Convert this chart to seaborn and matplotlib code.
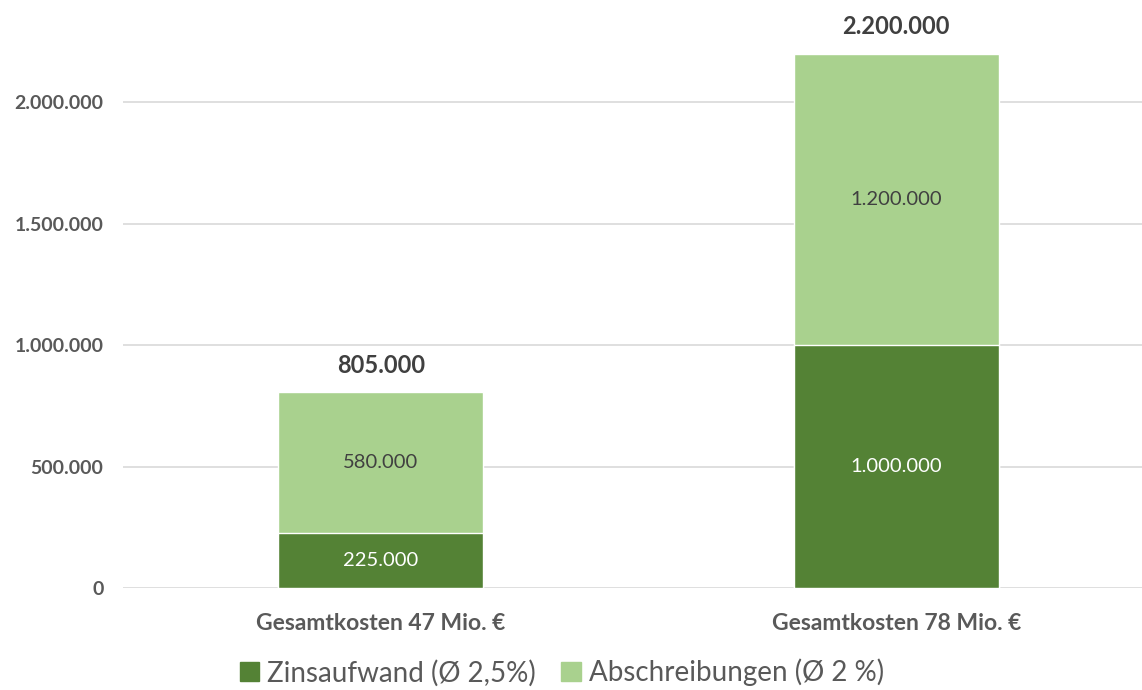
import matplotlib
matplotlib.use("Agg")
import matplotlib.pyplot as plt
import matplotlib.patches as mpatches
import seaborn as sns
import pandas as pd

categories = ["Gesamtkosten 47 Mio. €", "Gesamtkosten 78 Mio. €"]
zinsaufwand = [225000, 1000000]
abschreibungen = [580000, 1200000]
series_names = ["Zinsaufwand (Ø 2,5%)", "Abschreibungen (Ø 2 %)"]
y_ticks = [0, 500000, 1000000, 1500000, 2000000]

dark_green = "#548235"
light_green = "#A9D18E"
text_gray = "#595959"
label_dark = "#404040"

def fmt(v):
    return f"{v:,.0f}".replace(",", ".")

totals = [z + a for z, a in zip(zinsaufwand, abschreibungen)]
df = pd.DataFrame({"Kategorie": categories, "Zins": zinsaufwand,
                   "Abschreibung": abschreibungen, "Gesamt": totals})

sns.set_style("white")
plt.rcParams["font.family"] = ["Lato", "DejaVu Sans"]

fig = plt.figure(figsize=(11.42, 6.9), dpi=100)
ax = fig.add_axes([0.1077, 0.1478, 0.8923, 0.845])

# full stack height in light green, lower segment in dark green over it
sns.barplot(data=df, x="Kategorie", y="Gesamt", color=light_green,
            width=0.398, saturation=1, ax=ax, zorder=2)
sns.barplot(data=df, x="Kategorie", y="Zins", color=dark_green,
            width=0.398, saturation=1, ax=ax, zorder=3)

ax.set_xlim(-0.5, 1.477)
ax.set_ylim(0, 2400000)
ax.set_yticks(y_ticks)
ax.set_yticklabels([fmt(v) for v in y_ticks], fontsize=14, fontweight="bold",
                   color=text_gray)
ax.tick_params(axis="y", length=0, pad=14)
ax.tick_params(axis="x", length=0, pad=18, labelsize=16.5, labelcolor=text_gray)
for lbl in ax.get_xticklabels():
    lbl.set_fontweight("bold")
ax.set_xlabel("")
ax.set_ylabel("")
ax.grid(axis="y", color="#d9d9d9", linewidth=1.2, zorder=0)
ax.set_axisbelow(True)
for s in ax.spines.values():
    s.set_visible(False)

for i, (z, a, t) in enumerate(zip(zinsaufwand, abschreibungen, totals)):
    ax.text(i, z / 2, fmt(z), ha="center", va="center", fontsize=14.5,
            color="white", zorder=5)
    ax.text(i, z + a / 2, fmt(a), ha="center", va="center", fontsize=14.5,
            color=label_dark, zorder=5)
    ax.text(i, t + 112000, fmt(t), ha="center", va="center", fontsize=17,
            fontweight="bold", color=label_dark, zorder=5)

handles = [mpatches.Patch(color=dark_green), mpatches.Patch(color=light_green)]
fig.legend(handles, series_names, loc="lower center", ncol=2,
           bbox_to_anchor=(0.492, -0.031), frameon=False, fontsize=20,
           handlelength=0.7, handleheight=0.7, handletextpad=0.3,
           columnspacing=0.9, labelcolor=text_gray)

fig.savefig("out.png", dpi=100)
